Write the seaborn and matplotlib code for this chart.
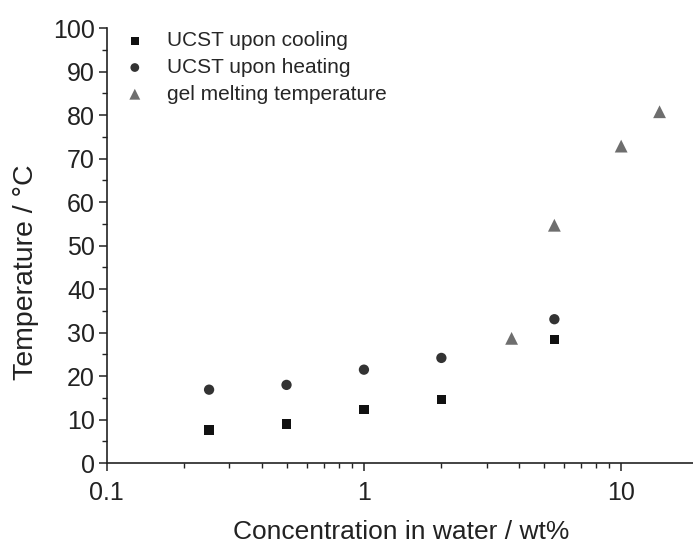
import matplotlib

matplotlib.use("Agg")
import matplotlib.pyplot as plt
import pandas as pd
import seaborn as sns
from matplotlib.ticker import FixedLocator, LogLocator, MultipleLocator, NullFormatter

# values
COOLING_CONC = [0.25, 0.5, 1.0, 2.0, 5.5]
COOLING_TEMP = [7.6, 9.0, 12.3, 14.6, 28.4]

HEATING_CONC = [0.25, 0.5, 1.0, 2.0, 5.5]
HEATING_TEMP = [16.9, 18.0, 21.5, 24.2, 33.1]

GEL_CONC = [3.75, 5.5, 10.0, 14.1]
GEL_TEMP = [28.7, 54.7, 72.9, 80.8]

X_TICKS = [0.1, 1, 10]
X_TICK_LABELS = ["0.1", "1", "10"]

SERIES = [
    ("UCST upon cooling", COOLING_CONC, COOLING_TEMP, "s", "#111111", 45),
    ("UCST upon heating", HEATING_CONC, HEATING_TEMP, "o", "#333333", 55),
    ("gel melting temperature", GEL_CONC, GEL_TEMP, "^", "#6e6e6e", 85),
]


def main():
    sns.set_style("ticks")
    plt.rcParams["font.family"] = ["Liberation Sans", "DejaVu Sans"]

    fig = plt.figure(figsize=(6.93, 5.43), dpi=100)
    ax = fig.add_axes([0.154, 0.147, 0.85, 0.801])

    for label, conc, temp, marker, color, size in SERIES:
        df = pd.DataFrame({"conc": conc, "temp": temp})
        sns.scatterplot(
            data=df,
            x="conc",
            y="temp",
            marker=marker,
            color=color,
            s=size,
            edgecolor="none",
            label=label,
            ax=ax,
            clip_on=False,
        )

    ax.set_xscale("log")
    ax.set_xlim(0.1, 19.5)
    ax.set_ylim(0, 100)

    ax.xaxis.set_major_locator(FixedLocator(X_TICKS))
    ax.set_xticklabels(X_TICK_LABELS)
    ax.xaxis.set_minor_locator(LogLocator(base=10, subs=range(2, 10)))
    ax.xaxis.set_minor_formatter(NullFormatter())
    ax.yaxis.set_major_locator(MultipleLocator(10))
    ax.yaxis.set_minor_locator(MultipleLocator(5))

    ax.tick_params(axis="both", which="major", length=6, width=1.1,
                   direction="out", labelsize=18, color="#222222",
                   labelcolor="#222222", pad=2.5)
    ax.tick_params(axis="x", which="major", pad=6.5)
    ax.tick_params(axis="both", which="minor", length=3.5, width=1.0,
                   direction="out", color="#222222")

    sns.despine(ax=ax)
    for side in ("left", "bottom"):
        ax.spines[side].set_linewidth(1.2)
        ax.spines[side].set_color("#222222")

    ax.set_xlabel("Concentration in water / wt%", fontsize=19,
                  color="#222222", labelpad=11)
    ax.set_ylabel("Temperature / °C", fontsize=20.5, color="#222222")
    ax.yaxis.set_label_coords(-0.115, 0.44)

    ax.legend(
        loc="upper left",
        bbox_to_anchor=(0.03, 0.993),
        frameon=False,
        fontsize=15,
        handlelength=1.0,
        handletextpad=1.05,
        labelspacing=0.37,
        borderaxespad=0,
        borderpad=0,
        markerscale=0.85,
    )

    fig.savefig("out.png", dpi=100)
    plt.close(fig)


if __name__ == "__main__":
    main()
